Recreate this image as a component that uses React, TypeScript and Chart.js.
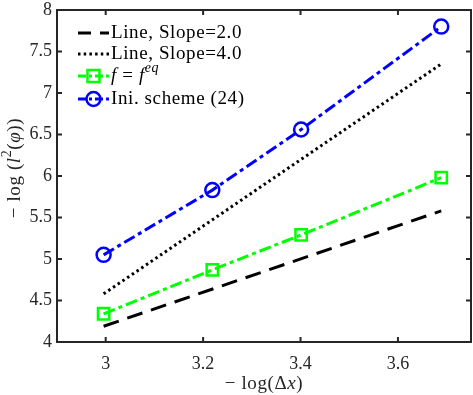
import React, { useEffect, useRef } from "react";
import { Chart, registerables } from "chart.js";
Chart.register(...registerables);

const xPoints = [2.9957, 3.2189, 3.4012, 3.6889];
const schemeValues = [5.05, 5.83, 6.56, 7.8];
const eqValues = [4.34, 4.87, 5.29, 5.98];
const refX = [2.9957, 3.6889];
const slope2Values = [4.19, 5.58];
const slope4Values = [4.58, 7.35];
const xTicks = [3, 3.2, 3.4, 3.6];
const yTicks = [4, 4.5, 5, 5.5, 6, 6.5, 7, 7.5, 8];

const SERIF = '"Liberation Serif", "DejaVu Serif", serif';
const AXIS_COLOR = "#262626";

type Seg = { text: string; italic?: boolean; sup?: boolean };

function drawRich(
  ctx: CanvasRenderingContext2D,
  segs: Seg[],
  x: number,
  y: number,
  align: "left" | "center",
  size = 15,
  spacing = 0
) {
  const fontOf = (s: Seg) => `${s.italic ? "italic " : ""}${s.sup ? Math.round(size * 0.72) : size}px ${SERIF}`;
  (ctx as any).letterSpacing = `${spacing}px`;
  let total = 0;
  const widths = segs.map((s) => {
    ctx.font = fontOf(s);
    const w = ctx.measureText(s.text).width;
    total += w;
    return w;
  });
  let cx = align === "center" ? x - total / 2 : x;
  ctx.textBaseline = "middle";
  ctx.textAlign = "left";
  segs.forEach((s, i) => {
    ctx.font = fontOf(s);
    ctx.fillText(s.text, cx, s.sup ? y - size * 0.38 : y);
    cx += widths[i];
  });
  (ctx as any).letterSpacing = "0px";
}

const decorPlugin = {
  id: "decor",
  afterDatasetsDraw(chart: any) {
    const ctx: CanvasRenderingContext2D = chart.ctx;
    const { left, right, top, bottom } = chart.chartArea;
    const xs = chart.scales.x;
    const ys = chart.scales.y;
    ctx.save();
    // box
    ctx.strokeStyle = AXIS_COLOR;
    ctx.lineWidth = 2;
    ctx.strokeRect(left, top, right - left, bottom - top);
    // ticks inside
    const tl = 5;
    ctx.beginPath();
    xTicks.forEach((v) => {
      const px = xs.getPixelForValue(v);
      ctx.moveTo(px, bottom);
      ctx.lineTo(px, bottom - tl);
      ctx.moveTo(px, top);
      ctx.lineTo(px, top + tl);
    });
    yTicks.forEach((v) => {
      const py = ys.getPixelForValue(v);
      ctx.moveTo(left, py);
      ctx.lineTo(left + tl, py);
      ctx.moveTo(right, py);
      ctx.lineTo(right - tl, py);
    });
    ctx.stroke();

    // axis titles
    ctx.fillStyle = AXIS_COLOR;
    drawRich(
      ctx,
      [{ text: "\u2212 log(\u0394" }, { text: "x", italic: true }, { text: ")" }],
      (left + right) / 2,
      384,
      "center",
      19,
      0.6
    );
    ctx.save();
    ctx.translate(15, 168);
    ctx.rotate(-Math.PI / 2);
    drawRich(
      ctx,
      [
        { text: "\u2212 log (" },
        { text: "l", italic: true },
        { text: "2", sup: true },
        { text: "(" },
        { text: "\u03c6", italic: true },
        { text: "))" },
      ],
      0,
      0,
      "center",
      19,
      0.6
    );
    ctx.restore();

    // legend
    const lx0 = 78;
    const lx1 = 109;
    const tx = 111;
    const rows = [33, 54, 76, 99];
    const items = [
      { color: "#000000", dash: [13, 9], marker: null, label: [{ text: "Line, Slope=2.0" }] as Seg[] },
      { color: "#000000", dash: [2.5, 3.2], marker: null, label: [{ text: "Line, Slope=4.0" }] as Seg[] },
      {
        color: "#00ff00",
        dash: [8, 3, 3, 3],
        marker: "rect",
        label: [
          { text: "f", italic: true },
          { text: " = " },
          { text: "f", italic: true },
          { text: "eq", italic: true, sup: true },
        ] as Seg[],
      },
      { color: "#0000ff", dash: [8, 3, 3, 3], marker: "circle", label: [{ text: "Ini. scheme (24)" }] as Seg[] },
    ];
    items.forEach((it, i) => {
      const y = rows[i];
      ctx.strokeStyle = it.color;
      ctx.lineWidth = 3;
      ctx.setLineDash(it.dash);
      ctx.beginPath();
      ctx.moveTo(lx0, y);
      ctx.lineTo(lx1, y);
      ctx.stroke();
      ctx.setLineDash([]);
      const mx = (lx0 + lx1) / 2;
      ctx.lineWidth = 2.5;
      if (it.marker === "rect") {
        ctx.strokeRect(mx - 6, y - 6, 12, 12);
      } else if (it.marker === "circle") {
        ctx.beginPath();
        ctx.arc(mx, y, 7, 0, Math.PI * 2);
        ctx.stroke();
      }
      ctx.fillStyle = "#000000";
      drawRich(ctx, it.label, tx, y, "left", 19, 0.6);
    });
    ctx.restore();
  },
};

const toPts = (xsArr: number[], ysArr: number[]) => xsArr.map((x, i) => ({ x, y: ysArr[i] }));

export default function App() {
  const ref = useRef<HTMLCanvasElement | null>(null);
  useEffect(() => {
    if (!ref.current) return;
    const chart = new Chart(ref.current, {
      type: "scatter",
      data: {
        datasets: [
          {
            label: "Line, Slope=2.0",
            data: toPts(refX, slope2Values),
            showLine: true,
            borderColor: "#000000",
            borderWidth: 3,
            borderDash: [16, 9],
            pointRadius: 0,
          },
          {
            label: "Line, Slope=4.0",
            data: toPts(refX, slope4Values),
            showLine: true,
            borderColor: "#000000",
            borderWidth: 3,
            borderDash: [2.5, 3.2],
            pointRadius: 0,
          },
          {
            label: "f = f^eq",
            data: toPts(xPoints, eqValues),
            showLine: true,
            borderColor: "#00ff00",
            backgroundColor: "rgba(0,0,0,0)",
            borderWidth: 3,
            borderDash: [12, 4, 4, 4],
            pointStyle: "rect",
            pointRadius: 8,
            pointBorderWidth: 2.5,
            pointBorderColor: "#00ff00",
            pointBackgroundColor: "rgba(0,0,0,0)",
          },
          {
            label: "Ini. scheme (24)",
            data: toPts(xPoints, schemeValues),
            showLine: true,
            borderColor: "#0000ff",
            backgroundColor: "rgba(0,0,0,0)",
            borderWidth: 3,
            borderDash: [12, 4, 4, 4],
            pointStyle: "circle",
            pointRadius: 7,
            pointBorderWidth: 2.5,
            pointBorderColor: "#0000ff",
            pointBackgroundColor: "rgba(0,0,0,0)",
          },
        ],
      },
      options: {
        animation: false,
        responsive: false,
        layout: { autoPadding: false, padding: { top: 10, right: 2, left: 0, bottom: 0 } },
        plugins: { legend: { display: false }, tooltip: { enabled: false } },
        scales: {
          x: {
            type: "linear",
            min: 2.9,
            max: 3.75,
            grid: { display: false, drawTicks: false },
            border: { display: false },
            afterBuildTicks: (s: any) => {
              s.ticks = xTicks.map((v) => ({ value: v }));
            },
            afterFit: (s: any) => {
              s.height = 53;
              s.paddingLeft = 0;
              s.paddingRight = 0;
            },
            ticks: {
              padding: 11,
              color: AXIS_COLOR,
              font: { family: SERIF, size: 18 },
              callback: (v: any) => String(v),
              maxRotation: 0,
              autoSkip: false,
            },
          },
          y: {
            type: "linear",
            min: 4,
            max: 8,
            grid: { display: false, drawTicks: false },
            border: { display: false },
            afterBuildTicks: (s: any) => {
              s.ticks = yTicks.map((v) => ({ value: v }));
            },
            afterFit: (s: any) => {
              s.width = 57;
              s.paddingTop = 0;
              s.paddingBottom = 0;
            },
            ticks: {
              padding: 5,
              color: AXIS_COLOR,
              font: { family: SERIF, size: 18 },
              callback: (v: any) => String(v),
              autoSkip: false,
            },
          },
        },
      },
      plugins: [decorPlugin],
    } as any);
    return () => chart.destroy();
  }, []);
  return (
    <div style={{ position: "fixed", left: 0, top: 0, width: 473, height: 395, background: "#fff" }}>
      <canvas ref={ref} width={473} height={395} style={{ display: "block" }} />
    </div>
  );
}
